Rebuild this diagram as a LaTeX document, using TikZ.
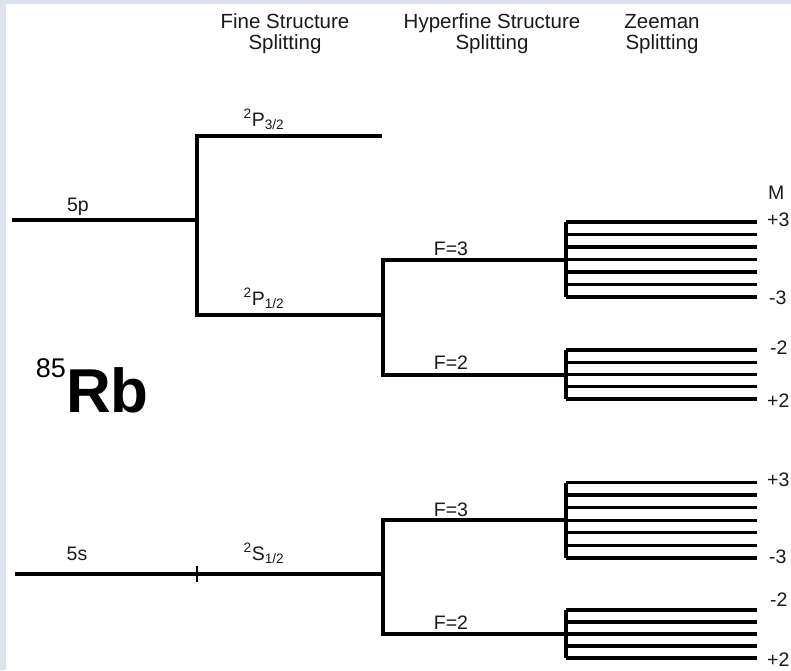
\documentclass[tikz,border=0pt]{standalone}
\usepackage{fontspec}
\setmainfont{Liberation Sans}
\usetikzlibrary{positioning}
\definecolor{framebg}{HTML}{DDE3EE}
\definecolor{ink}{HTML}{1A1A1A}

\begin{document}
\begin{tikzpicture}[x=1pt, y=-1pt,
    level/.style={line width=3.2pt, draw=black},
    tick/.style={line width=2.2pt, draw=black},
    head/.style={font=\fontsize{20.5}{21}\selectfont, text=ink, align=center, inner sep=0pt},
    lbl/.style={font=\fontsize{19.5}{20}\selectfont, text=ink, inner sep=0pt, anchor=base},
    mlbl/.style={font=\fontsize{19.5}{20}\selectfont, text=ink, inner sep=0pt, anchor=west}
]

% Background frame
\fill[framebg] (0,0) rectangle (791,670);
\fill[white] (6,4) rectangle (791,670);
\useasboundingbox (0,0) rectangle (791,670);

% Column headings
\node[head] (fine) at (285,34) {Fine Structure\\Splitting};
\node[head] (hyper) at (492,34) {Hyperfine Structure\\Splitting};
\node[head] (zee) at (662,34) {Zeeman\\Splitting};

% Isotope
\node[font=\fontsize{62}{62}\selectfont\bfseries, inner sep=0pt, anchor=base west] (rb) at (66,412) {Rb};
\node[font=\fontsize{27}{27}\selectfont, inner sep=0pt, anchor=base east] (mass) at (66,377) {85};

% Key points of the upper manifold
\coordinate (p5) at (12,220);
\coordinate (pfork) at (197,220);
\coordinate (p32) at (382,136);
\coordinate (p12) at (383,315);
\coordinate (pf3) at (566,260);
\coordinate (pf2) at (566,375);

% 5p -> fine structure
\draw[level] (p5) -- (pfork);
\draw[level] (p32) -- (p32 -| pfork) -- (p12 -| pfork) -- (p12);
% 2P1/2 -> hyperfine
\draw[level] (pf3) -- (pf3 -| p12) -- (pf2 -| p12) -- (pf2);

% Key points of the lower manifold
\coordinate (s5) at (15,574);
\coordinate (sfork) at (383,574);
\coordinate (sf3) at (566,520);
\coordinate (sf2) at (566,634);

% 5s -> 2S1/2 -> hyperfine
\draw[level] (s5) -- (sfork);
\draw[tick] (197,566) -- (197,582);
\draw[level] (sf3) -- (sf3 -| sfork) -- (sf2 -| sfork) -- (sf2);

% Zeeman sublevels
\draw[level] (566,222) -- (566,297);
\foreach \i in {0,...,6}
  \draw[level] (566,222+12.5*\i) -- (757,222+12.5*\i);
\draw[level] (566,350) -- (566,399);
\foreach \i in {0,...,4}
  \draw[level] (566,350+12.25*\i) -- (757,350+12.25*\i);
\draw[level] (566,482.5) -- (566,558);
\foreach \i in {0,...,6}
  \draw[level] (566,482.5+12.58*\i) -- (757,482.5+12.58*\i);
\draw[level] (566,610) -- (566,658);
\foreach \i in {0,...,4}
  \draw[level] (566,610+12*\i) -- (757,610+12*\i);

% Level labels
\node[lbl] (l5p) at (78,211) {5p};
\node[lbl] (lp32) at (264,126) {\textsuperscript{2}P\textsubscript{3/2}};
\node[lbl] (lp12) at (264,305) {\textsuperscript{2}P\textsubscript{1/2}};
\node[lbl] (lpf3) at (451,255) {F=3};
\node[lbl] (lpf2) at (451,369) {F=2};
\node[lbl] (l5s) at (77,560) {5s};
\node[lbl] (ls12) at (264,560) {\textsuperscript{2}S\textsubscript{1/2}};
\node[lbl] (lsf3) at (451,516) {F=3};
\node[lbl] (lsf2) at (451,629) {F=2};

% Magnetic quantum numbers
\node[mlbl] (mhead) at (768,193) {M};
\node[mlbl] (mp3a) at (767,220) {+3};
\node[mlbl] (mm3a) at (769,298) {-3};
\node[mlbl] (mm2a) at (770,348) {-2};
\node[mlbl] (mp2a) at (767,401) {+2};
\node[mlbl] (mp3b) at (767,480) {+3};
\node[mlbl] (mm3b) at (769,557) {-3};
\node[mlbl] (mm2b) at (770,600) {-2};
\node[mlbl] (mp2b) at (767,660) {+2};

\end{tikzpicture}
\end{document}
